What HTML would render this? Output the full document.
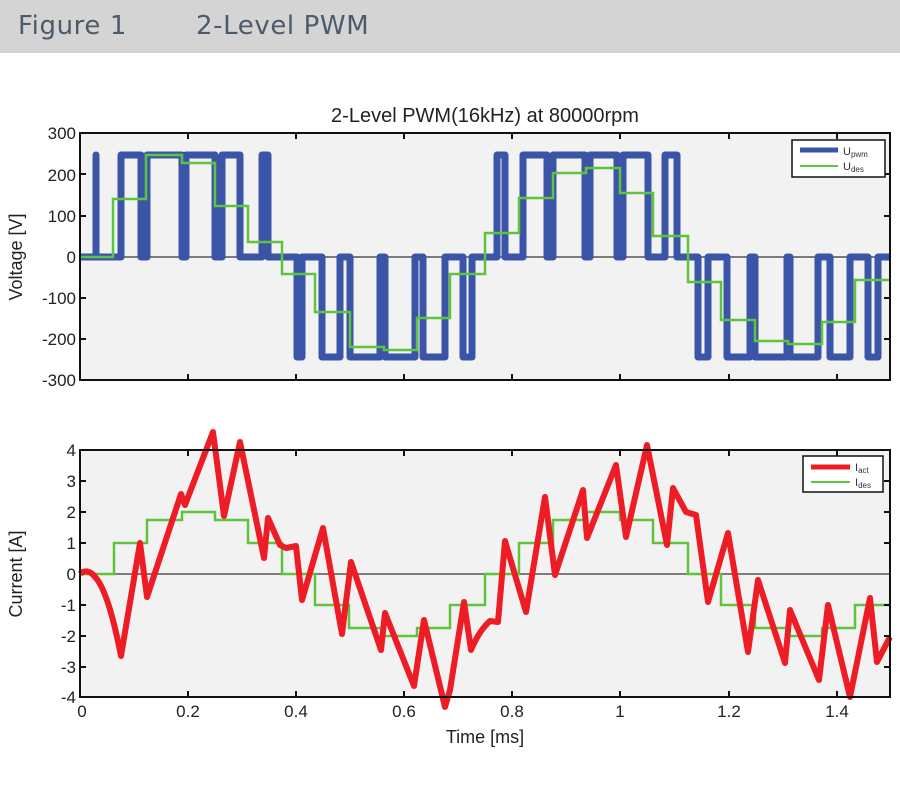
<!DOCTYPE html>
<html><head><meta charset="utf-8"><style>
html,body{margin:0;padding:0;background:#fff;width:900px;height:808px;overflow:hidden}
.hdr{position:absolute;left:0;top:0;width:900px;height:53px;background:#d4d4d4;font-family:"DejaVu Sans","Liberation Sans",sans-serif;font-size:26px;letter-spacing:0.6px;color:#4b5b6b}
</style></head><body>
<div class="hdr"><span style="position:absolute;left:18px;top:11px">Figure 1</span><span style="position:absolute;left:196px;top:11px">2-Level PWM</span></div>
<svg width="900" height="808" style="position:absolute;left:0;top:0" font-family="Liberation Sans, Arial, sans-serif">
<!-- TOP PLOT -->
<rect x="80" y="133" width="810" height="247" fill="#f2f2f2"/>
<line x1="80" y1="257" x2="890" y2="257" stroke="#555" stroke-width="1.5"/>
<g stroke="#3a55a8" stroke-width="7" fill="none" stroke-linejoin="round">
<path d="M80,257 H96 V155 V257 H121 V155 H141 V257 H147 V155 H182 V257 H186 V155 H215 V257 H222 V155 H240 V257 H262 V155 H268 V257 H297 V357 H302 V257 H322 V357 H340 V257 H350 V357 H380 V257 H385 V357 H415 V257 H423 V357 H445 V257 H463 V357 H472 V257 H497 V155 H505 V257 H523 V155 H547 V257 H553 V155 H585 V257 H590 V155 H617 V257 H623 V155 H648 V257 H665 V155 H677 V257 H698 V357 H708 V257 H727 V357 H750 V257 H755 V357 H787 V257 H790 V357 H818 V257 H830 V357 H850 V257 H868 V357 H878 V257 H890"/>
</g>
<path fill="none" stroke="#5ec43c" stroke-width="2.5" d="M80,257 H113 V199 H146 V155 H182 V163 H215 V206 H248 V242 H282 V274 H315 V312 H350 V347 H384 V350 H417 V318 H450 V274 H485 V233 H519 V198 H553 V173 H586 V168 H620 V193 H653 V236 H688 V282 H721 V320 H755 V341 H788 V344 H822 V322 H855 V280 H890"/>
<rect x="80" y="133" width="810" height="247" fill="none" stroke="#111" stroke-width="2"/>
<g stroke="#111" stroke-width="2">
<line x1="188" y1="133" x2="188" y2="139"/><line x1="296" y1="133" x2="296" y2="139"/><line x1="404" y1="133" x2="404" y2="139"/><line x1="512" y1="133" x2="512" y2="139"/><line x1="620" y1="133" x2="620" y2="139"/><line x1="729" y1="133" x2="729" y2="139"/><line x1="837" y1="133" x2="837" y2="139"/>
<line x1="188" y1="380" x2="188" y2="374"/><line x1="296" y1="380" x2="296" y2="374"/><line x1="404" y1="380" x2="404" y2="374"/><line x1="512" y1="380" x2="512" y2="374"/><line x1="620" y1="380" x2="620" y2="374"/><line x1="729" y1="380" x2="729" y2="374"/><line x1="837" y1="380" x2="837" y2="374"/>
<line x1="80" y1="174" x2="86" y2="174"/><line x1="80" y1="216" x2="86" y2="216"/><line x1="80" y1="298" x2="86" y2="298"/><line x1="80" y1="339" x2="86" y2="339"/>
<line x1="890" y1="174" x2="884" y2="174"/><line x1="890" y1="216" x2="884" y2="216"/><line x1="890" y1="298" x2="884" y2="298"/><line x1="890" y1="339" x2="884" y2="339"/>
</g>
<g font-size="17" fill="#222" text-anchor="end">
<text x="76" y="139">300</text><text x="76" y="181">200</text><text x="76" y="222">100</text><text x="76" y="263">0</text><text x="76" y="304">-100</text><text x="76" y="345">-200</text><text x="76" y="386">-300</text>
</g>
<text x="485" y="122" font-size="20" text-anchor="middle" fill="#222">2-Level PWM(16kHz) at 80000rpm</text>
<text transform="translate(22,257) rotate(-90)" font-size="18" text-anchor="middle" fill="#222">Voltage [V]</text>
<rect x="792" y="140" width="93" height="37" fill="#fff" stroke="#111" stroke-width="1.5"/>
<line x1="800" y1="150" x2="838" y2="150" stroke="#3a55a8" stroke-width="5"/>
<line x1="800" y1="166" x2="838" y2="166" stroke="#5ec43c" stroke-width="2"/>
<text x="843" y="155" font-size="11" fill="#333">U<tspan font-size="8" dy="2">pwm</tspan></text>
<text x="843" y="170" font-size="11" fill="#333">U<tspan font-size="8" dy="2">des</tspan></text>

<!-- BOTTOM PLOT -->
<rect x="80" y="450" width="810" height="247" fill="#f2f2f2"/>
<line x1="80" y1="574" x2="890" y2="574" stroke="#555" stroke-width="1.5"/>
<path fill="none" stroke="#5ec43c" stroke-width="2.5" d="M80,574 H114 V543 H147 V520 H182 V512 H215 V520 H248 V543 H282 V574 H315 V605 H349 V628 H384 V636 H417 V628 H450 V605 H485 V574 H519 V543 H553 V520 H586 V512 H620 V520 H653 V543 H688 V574 H721 V605 H755 V628 H788 V636 H822 V628 H855 V605 H890"/>
<path fill="none" stroke="#ee1c24" stroke-width="6" stroke-linejoin="round" d="M80,574 C84,570 90,570 96,578 C106,590 114,620 121,656 L140,543 L147,597 L181,494 L185,505 L213,432 L224,516 L240,442 L264,558 L268,518 L280,545 L286,548 L296,546 L302,600 L323,528 L342,634 L351,562 L381,650 L385,613 L414,686 L424,620 L445,707 L450,690 L464,602 L471,650 C476,638 482,628 490,621 L498,622 L505,541 L526,612 L545,497 L555,575 L583,490 L587,538 L616,465 L626,537 L647,445 L667,545 L673,488 L686,512 L696,515 L708,602 L728,533 L748,652 L758,580 L785,663 L790,610 L819,680 L828,605 L850,697 L870,598 L877,662 L890,637"/>
<rect x="80" y="450" width="810" height="247" fill="none" stroke="#111" stroke-width="2"/>
<g stroke="#111" stroke-width="2">
<line x1="188" y1="450" x2="188" y2="456"/><line x1="296" y1="450" x2="296" y2="456"/><line x1="404" y1="450" x2="404" y2="456"/><line x1="512" y1="450" x2="512" y2="456"/><line x1="620" y1="450" x2="620" y2="456"/><line x1="729" y1="450" x2="729" y2="456"/><line x1="837" y1="450" x2="837" y2="456"/>
<line x1="188" y1="697" x2="188" y2="691"/><line x1="296" y1="697" x2="296" y2="691"/><line x1="404" y1="697" x2="404" y2="691"/><line x1="512" y1="697" x2="512" y2="691"/><line x1="620" y1="697" x2="620" y2="691"/><line x1="729" y1="697" x2="729" y2="691"/><line x1="837" y1="697" x2="837" y2="691"/>
<line x1="80" y1="481" x2="86" y2="481"/><line x1="80" y1="512" x2="86" y2="512"/><line x1="80" y1="543" x2="86" y2="543"/><line x1="80" y1="605" x2="86" y2="605"/><line x1="80" y1="636" x2="86" y2="636"/><line x1="80" y1="667" x2="86" y2="667"/>
<line x1="890" y1="481" x2="884" y2="481"/><line x1="890" y1="512" x2="884" y2="512"/><line x1="890" y1="543" x2="884" y2="543"/><line x1="890" y1="605" x2="884" y2="605"/><line x1="890" y1="636" x2="884" y2="636"/><line x1="890" y1="667" x2="884" y2="667"/>
</g>
<g font-size="17" fill="#222" text-anchor="end">
<text x="76" y="456">4</text><text x="76" y="487">3</text><text x="76" y="518">2</text><text x="76" y="549">1</text><text x="76" y="580">0</text><text x="76" y="611">-1</text><text x="76" y="642">-2</text><text x="76" y="673">-3</text><text x="76" y="703">-4</text>
</g>
<g font-size="17" fill="#222" text-anchor="middle">
<text x="82" y="717">0</text><text x="188" y="717">0.2</text><text x="296" y="717">0.4</text><text x="404" y="717">0.6</text><text x="512" y="717">0.8</text><text x="620" y="717">1</text><text x="729" y="717">1.2</text><text x="837" y="717">1.4</text>
</g>
<text x="485" y="743" font-size="18" text-anchor="middle" fill="#222">Time [ms]</text>
<text transform="translate(22,574) rotate(-90)" font-size="18" text-anchor="middle" fill="#222">Current [A]</text>
<rect x="803" y="456" width="80" height="36" fill="#fff" stroke="#111" stroke-width="1.5"/>
<line x1="811" y1="467" x2="850" y2="467" stroke="#ee1c24" stroke-width="5"/>
<line x1="811" y1="482" x2="850" y2="482" stroke="#5ec43c" stroke-width="2"/>
<text x="855" y="471" font-size="11" fill="#333">I<tspan font-size="8" dy="2">act</tspan></text>
<text x="855" y="486" font-size="11" fill="#333">I<tspan font-size="8" dy="2">des</tspan></text>
</svg>
</body></html>
